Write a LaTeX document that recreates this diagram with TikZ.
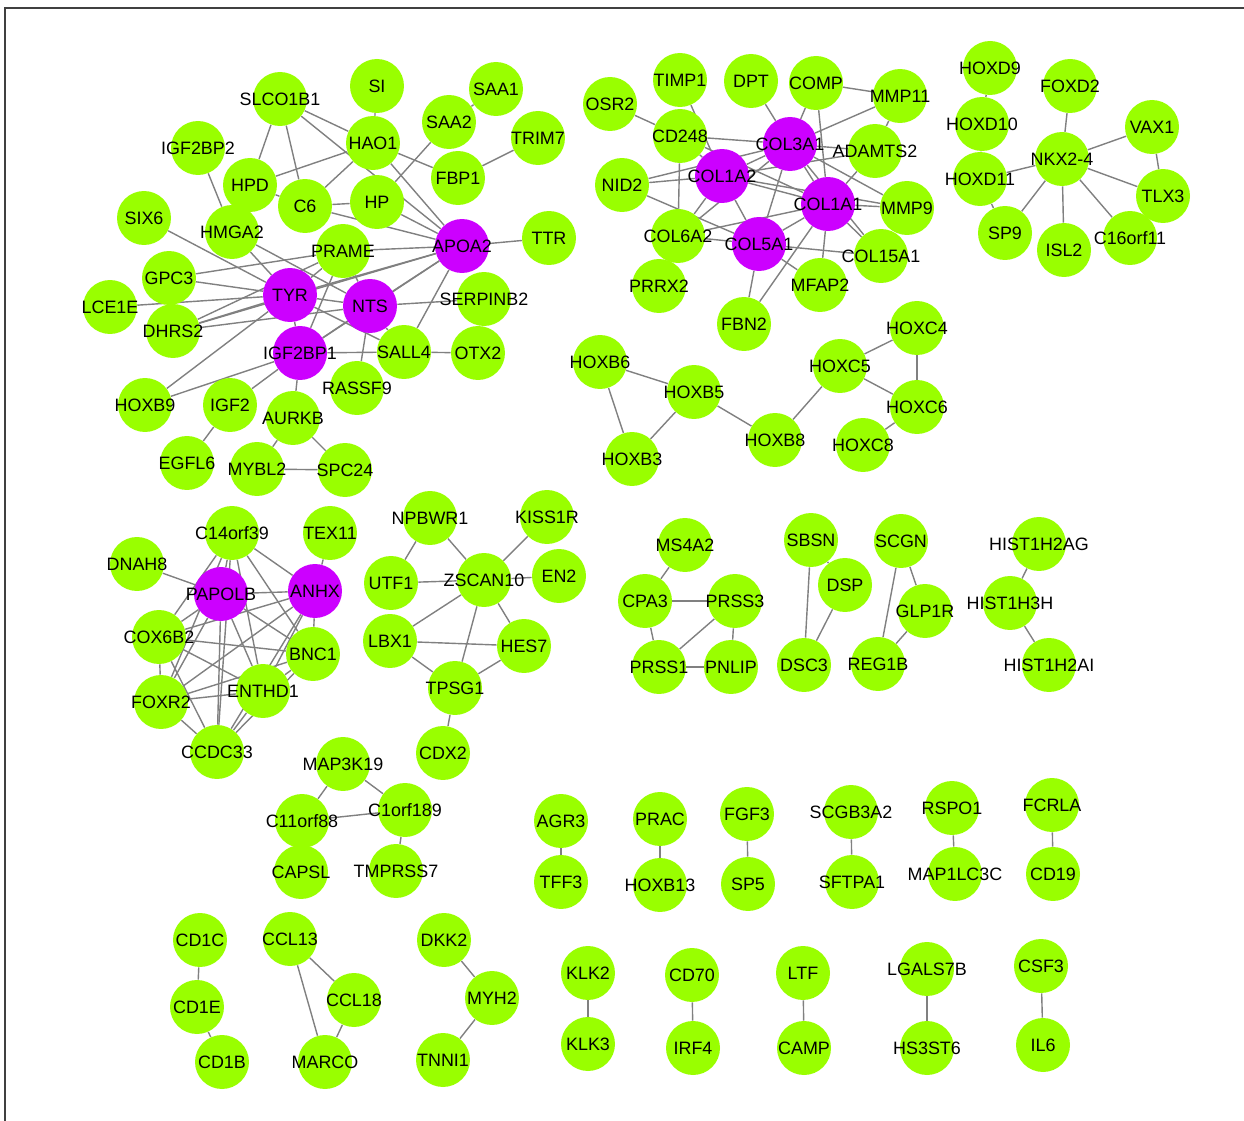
\documentclass[tikz,border=0pt]{standalone}
\usepackage{fontspec}
\setmainfont{Liberation Sans}
\usetikzlibrary{backgrounds}
\definecolor{genegreen}{RGB}{153,255,0}
\definecolor{hubpurple}{RGB}{204,0,255}
\definecolor{edgegray}{RGB}{128,128,128}
\tikzset{
  gene/.style={circle, fill=genegreen, minimum size=1.08cm, inner sep=0pt},
  hub/.style={gene, fill=hubpurple},
  lbl/.style={font=\fontsize{10.2}{12}\selectfont, inner sep=0pt, text=black},
  link/.style={draw=edgegray, line width=0.8pt}
}
\begin{document}
\begin{tikzpicture}[x=0.02cm, y=-0.02cm]
  \useasboundingbox (0,0) rectangle (1244,1121);
  \draw[black!75, line width=0.6pt] (5,1121) -- (5,8) -- (1244,8);

  % green genes
  \foreach \n/\x/\y in {
    SLCO1B1/280/99, SI/377/86, SAA1/496/89, SAA2/449/122, TRIM7/538/138,
    HAO1/373/143, FBP1/458/178, IGF2BP2/198/148, HPD/250/185, C6/305/206,
    HP/377/202, SIX6/144/218, HMGA2/232/232, PRAME/343/251, TTR/549/238,
    GPC3/169/278, SERPINB2/484/299, LCE1E/110/307, DHRS2/173/331,
    SALL4/404/352, OTX2/478/353, RASSF9/357/388, HOXB9/145/405, IGF2/230/405,
    AURKB/293/418, EGFL6/187/463, MYBL2/257/469, SPC24/345/470,
    TIMP1/680/80, DPT/751/81, COMP/816/83, MMP11/900/96, OSR2/610/104,
    CD248/680/136, ADAMTS2/875/151, NID2/622/185, MMP9/907/208,
    COL6A2/678/236, COL15A1/881/256, PRRX2/659/286, MFAP2/820/285, FBN2/744/324,
    HOXD9/990/68, FOXD2/1070/86, HOXD10/982/124, VAX1/1152/127,
    HOXD11/980/179, TLX3/1163/196, SP9/1005/233, ISL2/1064/250, C16orf11/1130/238,
    HOXB6/600/362, HOXB5/694/392, HOXB3/632/459, HOXB8/775/440,
    HOXC5/840/366, HOXC4/917/328, HOXC6/917/407, HOXC8/863/445,
    C14orf39/232/533, TEX11/330/533, DNAH8/137/564, COX6B2/159/637,
    BNC1/313/654, ENTHD1/263/691, FOXR2/161/702, CCDC33/217/752,
    NPBWR1/430/518, KISS1R/547/517, UTF1/391/583, ZSCAN10/484/580, EN2/559/576,
    LBX1/390/641, HES7/524/646, TPSG1/455/688, CDX2/443/753,
    MS4A2/685/545, CPA3/645/601, PRSS3/735/601, PRSS1/659/667, PNLIP/731/667,
    SBSN/811/540, DSP/845/585, DSC3/804/665,
    SCGN/901/541, GLP1R/925/611, REG1B/878/664,
    HIST1H2AG/1039/544, HIST1H3H/1010/603, HIST1H2AI/1049/665,
    MAP3K19/343/764, C1orf189/405/810, C11orf88/302/821, CAPSL/301/872, TMPRSS7/396/871,
    AGR3/561/821, TFF3/561/882, PRAC/660/819, HOXB13/660/885,
    FGF3/747/814, SP5/748/884, SCGB3A2/851/812, SFTPA1/852/882,
    RSPO1/952/808, MAP1LC3C/955/874, FCRLA/1052/805, CD19/1053/874,
    CD1C/200/940, CD1E/197/1007, CD1B/222/1062,
    CCL13/290/939, CCL18/354/1000, MARCO/325/1062,
    DKK2/444/940, MYH2/492/998, TNNI1/443/1060,
    KLK2/588/973, KLK3/588/1044, CD70/692/975, IRF4/693/1048,
    LTF/803/973, CAMP/804/1048, LGALS7B/927/969, HS3ST6/927/1048,
    CSF3/1041/966, IL6/1043/1045}
    \node[gene, label={[lbl]center:\n}] (\n) at (\x,\y) {};
  \node[gene, label={[lbl]center:NKX2-4}] (NKX24) at (1062,159) {};

  % purple hubs
  \foreach \n/\x/\y in {
    APOA2/462/246, TYR/290/295, NTS/370/306, IGF2BP1/300/353,
    COL3A1/790/144, COL1A2/722/176, COL1A1/828/204, COL5A1/759/244,
    PAPOLB/221/594, ANHX/315/591}
    \node[hub, label={[lbl]center:\n}] (\n) at (\x,\y) {};

  % interactions
  \begin{scope}[on background layer]
    \foreach \a/\b in {
      SLCO1B1/HPD, SLCO1B1/C6, SLCO1B1/HAO1, SLCO1B1/APOA2,
      SI/HAO1, SAA1/SAA2, SAA2/HP, TRIM7/FBP1, HAO1/FBP1, HAO1/HPD, HAO1/C6, HAO1/APOA2,
      HPD/C6, C6/HP, C6/APOA2, HP/APOA2, APOA2/TTR,
      IGF2BP2/HMGA2, HMGA2/TYR, HMGA2/NTS, SIX6/TYR,
      GPC3/PRAME, GPC3/TYR, LCE1E/TYR, DHRS2/TYR, DHRS2/NTS, DHRS2/PRAME, DHRS2/APOA2,
      HOXB9/TYR, HOXB9/IGF2BP1, IGF2/IGF2BP1, IGF2/EGFL6,
      AURKB/IGF2BP1, AURKB/MYBL2, AURKB/SPC24, MYBL2/SPC24,
      IGF2BP1/SALL4, IGF2BP1/TYR, IGF2BP1/NTS, IGF2BP1/APOA2, IGF2BP1/PRAME,
      TYR/NTS, TYR/APOA2, TYR/PRAME, TYR/SALL4,
      NTS/APOA2, NTS/SALL4, NTS/RASSF9, NTS/SERPINB2, NTS/PRAME,
      PRAME/APOA2, APOA2/SALL4, SALL4/OTX2,
      TIMP1/COL1A2, OSR2/CD248, CD248/COL3A1, CD248/COL1A2, CD248/COL6A2, CD248/COL1A1,
      NID2/COL1A2, NID2/COL3A1, NID2/COL5A1, DPT/COL3A1, COMP/COL3A1, COMP/COL1A1,
      COMP/MMP11, MMP11/COL3A1, MMP11/ADAMTS2,
      COL3A1/ADAMTS2, COL3A1/COL1A1, COL3A1/COL1A2, COL3A1/COL5A1, COL3A1/MMP9,
      COL3A1/COL15A1, COL3A1/COL6A2,
      COL1A1/ADAMTS2, COL1A1/MMP9, COL1A1/COL15A1, COL1A1/MFAP2, COL1A1/COL5A1,
      COL1A1/COL1A2, COL1A1/FBN2, COL1A1/COL6A2,
      COL5A1/COL15A1, COL5A1/FBN2, COL5A1/COL6A2, COL5A1/COL1A2, COL5A1/MFAP2,
      COL6A2/PRRX2, COL6A2/COL1A2, COL1A2/ADAMTS2, COL1A2/MMP9,
      HOXD9/HOXD10, HOXD10/HOXD11, HOXD11/NKX24, HOXD11/SP9,
      NKX24/FOXD2, NKX24/VAX1, NKX24/TLX3, NKX24/SP9, NKX24/ISL2, NKX24/C16orf11, VAX1/TLX3,
      HOXB6/HOXB5, HOXB6/HOXB3, HOXB5/HOXB3, HOXB5/HOXB8, HOXB8/HOXC5,
      HOXC5/HOXC4, HOXC5/HOXC6, HOXC4/HOXC6, HOXC6/HOXC8,
      DNAH8/PAPOLB, TEX11/ANHX, C14orf39/PAPOLB, C14orf39/ANHX, C14orf39/BNC1,
      C14orf39/ENTHD1, C14orf39/COX6B2, C14orf39/FOXR2, C14orf39/CCDC33,
      PAPOLB/ANHX, PAPOLB/COX6B2, PAPOLB/BNC1, PAPOLB/ENTHD1, PAPOLB/FOXR2, PAPOLB/CCDC33,
      ANHX/BNC1, ANHX/COX6B2, ANHX/ENTHD1, ANHX/FOXR2, ANHX/CCDC33,
      COX6B2/BNC1, COX6B2/ENTHD1, COX6B2/FOXR2, COX6B2/CCDC33,
      BNC1/ENTHD1, BNC1/FOXR2, BNC1/CCDC33, ENTHD1/FOXR2, ENTHD1/CCDC33, FOXR2/CCDC33,
      NPBWR1/UTF1, NPBWR1/ZSCAN10, KISS1R/ZSCAN10, UTF1/ZSCAN10, ZSCAN10/EN2,
      ZSCAN10/LBX1, ZSCAN10/HES7, ZSCAN10/TPSG1, LBX1/HES7, LBX1/TPSG1, HES7/TPSG1, TPSG1/CDX2,
      MS4A2/CPA3, CPA3/PRSS3, CPA3/PRSS1, PRSS3/PRSS1, PRSS3/PNLIP, PRSS1/PNLIP,
      SBSN/DSP, SBSN/DSC3, DSP/DSC3, SCGN/GLP1R, SCGN/REG1B, GLP1R/REG1B,
      HIST1H2AG/HIST1H3H, HIST1H3H/HIST1H2AI,
      MAP3K19/C11orf88, MAP3K19/C1orf189, C11orf88/C1orf189, C11orf88/CAPSL, C1orf189/TMPRSS7,
      AGR3/TFF3, PRAC/HOXB13, FGF3/SP5, SCGB3A2/SFTPA1, RSPO1/MAP1LC3C, FCRLA/CD19,
      CD1C/CD1E, CD1E/CD1B, CCL13/CCL18, CCL13/MARCO, CCL18/MARCO,
      DKK2/MYH2, MYH2/TNNI1, KLK2/KLK3, CD70/IRF4, LTF/CAMP, LGALS7B/HS3ST6, CSF3/IL6}
      \draw[link] (\a) -- (\b);
  \end{scope}
\end{tikzpicture}
\end{document}
